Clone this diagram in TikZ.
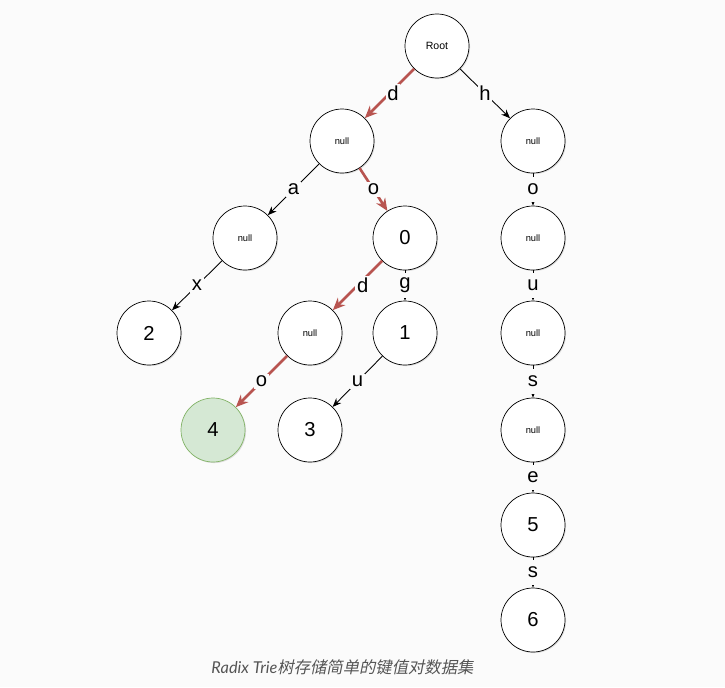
\documentclass[tikz,border=0pt]{standalone}
\usepackage{fontspec}
\setmainfont{Liberation Sans}
\newfontfamily\capfont{Lato}
\newfontfamily\cjk[FakeSlant=0.2]{Noto Sans CJK SC}
\usetikzlibrary{arrows.meta,shadows}
\definecolor{bg}{HTML}{FBFBFB}
\definecolor{path}{HTML}{B85450}
\definecolor{hitfill}{HTML}{D5E8D4}
\definecolor{hitline}{HTML}{82B366}
\definecolor{cap}{HTML}{555555}
\tikzset{
  knot/.style={circle, draw, fill=white, minimum size=12.8mm, inner sep=0pt, font=\fontsize{11.5}{12}\selectfont,
    drop shadow={opacity=0.25, shadow xshift=0.6pt, shadow yshift=-0.6pt}},
  tiny/.style={font=\fontsize{5.3}{6}\selectfont},
  hit/.style={knot, draw=hitline, fill=hitfill},
  edge/.style={-{Stealth[length=5pt,width=4pt]}, line width=0.5pt},
  redge/.style={-{Stealth[length=7pt,width=6pt]}, line width=1.5pt, draw=path},
  lbl/.style={midway, fill=bg, inner sep=1pt, font=\fontsize{11.5}{12}\selectfont},
  vlbl/.style={lbl, minimum height=14.5pt}}

\begin{document}
\begin{tikzpicture}
\fill[bg] (0,0) rectangle (14.5,-13.74);
\useasboundingbox (0,0) rectangle (14.5,-13.74);
% keys stored: dax, do, dog, dodo, doug, house, houses
\node[knot, font=\fontsize{6}{7}\selectfont] (root) at (8.74,-0.92) {Root};
\node[knot, tiny] (nd) at (6.84,-2.82) {null};
\node[knot, tiny] (nh) at (10.66,-2.82) {null};
\node[knot, tiny] (nda) at (4.90,-4.76) {null};
\node[knot] (do) at (8.10,-4.76) {0};
\node[knot, tiny] (nho) at (10.66,-4.76) {null};
\node[knot] (dax) at (2.98,-6.66) {2};
\node[knot, tiny] (ndod) at (6.20,-6.66) {null};
\node[knot] (dog) at (8.10,-6.66) {1};
\node[knot, tiny] (nhou) at (10.66,-6.66) {null};
\node[hit] (dodo) at (4.26,-8.60) {4};
\node[knot] (doug) at (6.20,-8.60) {3};
\node[knot, tiny] (nhous) at (10.66,-8.60) {null};
\node[knot] (house) at (10.66,-10.50) {5};
\node[knot] (houses) at (10.66,-12.40) {6};
% search path for "dodo"
\draw[redge] (root) -- (nd) node[lbl, xshift=2pt] {d};
\draw[redge] (nd) -- (do) node[lbl] {o};
\draw[redge] (do) -- (ndod) node[lbl, xshift=3pt] {d};
\draw[redge] (ndod) -- (dodo) node[lbl] {o};
% other branches
\draw[edge] (root) -- (nh) node[lbl] {h};
\draw[edge] (nd) -- (nda) node[lbl] {a};
\draw[edge] (nda) -- (dax) node[lbl] {x};
\draw[edge] (do) -- (dog) node[vlbl] {g};
\draw[edge] (dog) -- (doug) node[lbl] {u};
\draw[edge] (nh) -- (nho) node[vlbl] {o};
\draw[edge] (nho) -- (nhou) node[vlbl] {u};
\draw[edge] (nhou) -- (nhous) node[vlbl] {s};
\draw[edge] (nhous) -- (house) node[vlbl] {e};
\draw[edge] (house) -- (houses) node[vlbl] {s};
\node[text=cap, font=\capfont\itshape\fontsize{9.3}{11}\selectfont] (caption) at (6.85,-13.34) {Radix Trie{\cjk 树存储简单的键值对数据集}};
\end{tikzpicture}
\end{document}
